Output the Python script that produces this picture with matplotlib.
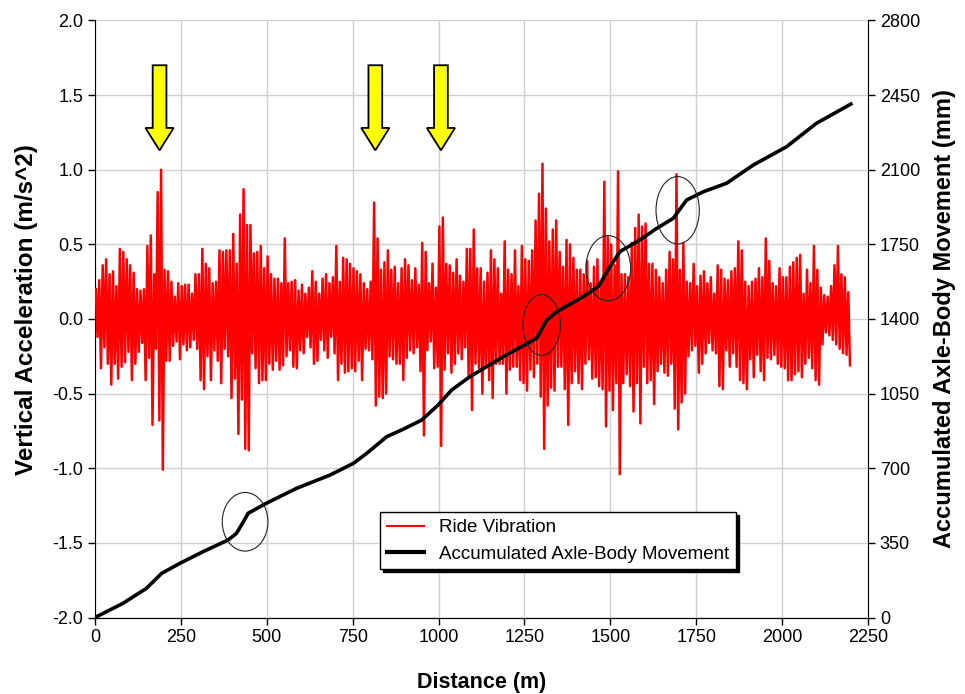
import numpy as np
import matplotlib
matplotlib.use("Agg")
import matplotlib.pyplot as plt
from matplotlib.lines import Line2D
from matplotlib.patches import Ellipse, FancyArrow

plt.rcParams['font.family'] = ['Liberation Sans', 'DejaVu Sans']

# ride vibration, peak up / peak down in each 10 m bin (0 - 2200 m)
bin_size = 10
vib_high = [
    0.20, 0.26, 0.36, 0.40, 0.30, 0.32, 0.22, 0.47, 0.45, 0.40,
    0.36, 0.31, 0.20, 0.19, 0.20, 0.49, 0.56, 0.30, 0.85, 1.00,
    0.33, 0.32, 0.25, 0.15, 0.24, 0.22, 0.23, 0.23, 0.17, 0.30,
    0.30, 0.47, 0.37, 0.34, 0.24, 0.25, 0.46, 0.45, 0.46, 0.46,
    0.57, 0.37, 0.70, 0.87, 0.63, 0.63, 0.44, 0.45, 0.49, 0.34,
    0.42, 0.30, 0.27, 0.27, 0.24, 0.54, 0.24, 0.25, 0.26, 0.19,
    0.23, 0.17, 0.21, 0.32, 0.25, 0.17, 0.27, 0.30, 0.24, 0.28,
    0.49, 0.25, 0.41, 0.40, 0.37, 0.34, 0.32, 0.30, 0.24, 0.20,
    0.25, 0.78, 0.54, 0.33, 0.38, 0.46, 0.33, 0.35, 0.24, 0.34,
    0.40, 0.36, 0.26, 0.34, 0.23, 0.51, 0.45, 0.24, 0.37, 0.21,
    0.62, 0.68, 0.37, 0.36, 0.31, 0.40, 0.29, 0.25, 0.47, 0.47,
    0.60, 0.34, 0.34, 0.25, 0.31, 0.46, 0.40, 0.34, 0.17, 0.52,
    0.33, 0.30, 0.46, 0.22, 0.49, 0.40, 0.39, 0.46, 0.66, 0.84,
    1.04, 0.74, 0.52, 0.60, 0.66, 0.45, 0.35, 0.53, 0.50, 0.41,
    0.33, 0.33, 0.30, 0.39, 0.24, 0.35, 0.40, 0.25, 0.92, 0.55,
    0.50, 0.36, 0.99, 0.30, 0.30, 0.28, 0.51, 0.61, 0.70, 0.62,
    0.64, 0.37, 0.37, 0.33, 0.28, 0.24, 0.33, 0.45, 0.40, 0.97,
    0.33, 0.51, 0.25, 0.24, 0.37, 0.22, 0.29, 0.32, 0.24, 0.28,
    0.17, 0.36, 0.33, 0.27, 0.26, 0.32, 0.34, 0.52, 0.46, 0.25,
    0.22, 0.25, 0.27, 0.34, 0.28, 0.54, 0.39, 0.24, 0.22, 0.34,
    0.28, 0.28, 0.35, 0.38, 0.41, 0.43, 0.17, 0.33, 0.24, 0.49,
    0.33, 0.21, 0.16, 0.15, 0.22, 0.36, 0.49, 0.30, 0.28, 0.18,
]
vib_low = [
    -0.12, -0.33, -0.19, -0.30, -0.44, -0.30, -0.40, -0.32, -0.29, -0.22,
    -0.41, -0.30, -0.22, -0.16, -0.41, -0.26, -0.71, -0.20, -0.68, -1.01,
    -0.28, -0.28, -0.18, -0.15, -0.27, -0.17, -0.21, -0.19, -0.14, -0.20,
    -0.41, -0.47, -0.25, -0.41, -0.21, -0.28, -0.43, -0.20, -0.25, -0.53,
    -0.40, -0.77, -0.54, -0.87, -0.88, -0.23, -0.33, -0.43, -0.41, -0.41,
    -0.30, -0.34, -0.28, -0.34, -0.31, -0.25, -0.21, -0.32, -0.33, -0.21,
    -0.23, -0.12, -0.19, -0.30, -0.28, -0.14, -0.21, -0.26, -0.12, -0.23,
    -0.41, -0.30, -0.36, -0.35, -0.33, -0.35, -0.28, -0.41, -0.20, -0.21,
    -0.27, -0.58, -0.52, -0.53, -0.50, -0.25, -0.27, -0.30, -0.30, -0.41,
    -0.26, -0.21, -0.23, -0.19, -0.35, -0.78, -0.21, -0.15, -0.33, -0.32,
    -0.85, -0.34, -0.23, -0.36, -0.30, -0.23, -0.27, -0.19, -0.39, -0.61,
    -0.30, -0.33, -0.50, -0.32, -0.41, -0.53, -0.30, -0.30, -0.30, -0.50,
    -0.34, -0.32, -0.32, -0.41, -0.43, -0.48, -0.34, -0.39, -0.30, -0.52,
    -0.87, -0.58, -0.46, -0.48, -0.32, -0.32, -0.47, -0.71, -0.43, -0.35,
    -0.43, -0.47, -0.30, -0.27, -0.40, -0.39, -0.45, -0.47, -0.72, -0.48,
    -0.61, -0.43, -1.04, -0.43, -0.37, -0.45, -0.62, -0.43, -0.70, -0.32,
    -0.43, -0.41, -0.57, -0.35, -0.30, -0.36, -0.38, -0.30, -0.60, -0.74,
    -0.56, -0.50, -0.25, -0.21, -0.18, -0.36, -0.30, -0.23, -0.16, -0.21,
    -0.23, -0.45, -0.47, -0.21, -0.32, -0.23, -0.32, -0.41, -0.43, -0.47,
    -0.27, -0.39, -0.24, -0.35, -0.41, -0.26, -0.27, -0.24, -0.30, -0.32,
    -0.33, -0.41, -0.41, -0.37, -0.35, -0.39, -0.30, -0.26, -0.33, -0.41,
    -0.44, -0.17, -0.09, -0.11, -0.14, -0.17, -0.20, -0.23, -0.24, -0.31,
]

# accumulated axle-body movement (mm) against distance (m)
move_dist = [0, 82, 150, 194, 247, 315, 388, 412, 432, 446, 499, 587, 684,
             752, 791, 849, 897, 951, 999, 1038, 1091, 1188, 1285, 1315, 1344,
             1421, 1465, 1499, 1528, 1586, 1635, 1683, 1722, 1771, 1839, 1916,
             2013, 2100, 2200]
move_mm = [0, 67, 137, 207, 254, 309, 364, 395, 449, 489, 536, 606, 668,
           723, 770, 848, 883, 926, 997, 1067, 1129, 1223, 1309, 1395, 1434,
           1505, 1552, 1645, 1716, 1771, 1825, 1872, 1958, 1997, 2037, 2122,
           2208, 2318, 2408]

# events marked on the chart
arrow_dist = [188, 816, 1007]
jump_dist = [437, 1300, 1494, 1696]
jump_mm = [449, 1372, 1638, 1910]

x_ticks = np.arange(0, 2251, 250)
acc_ticks = np.arange(-2.0, 2.01, 0.5)
mm_ticks = np.arange(0, 2801, 350)

# zigzag between the bin peaks so the trace looks like the raw signal
bins = np.arange(len(vib_high)) * bin_size
sig_x = np.column_stack([bins + 0.25 * bin_size, bins + 0.75 * bin_size]).ravel()
sig_y = np.column_stack([vib_high, vib_low]).ravel()

fig = plt.figure(figsize=(9.65, 6.94), dpi=100)
ax = fig.add_axes([0.0984, 0.1102, 0.8011, 0.8603])
ax2 = ax.twinx()

ax.plot(sig_x, sig_y, color='#ff0000', lw=1.8, zorder=3)
ax2.plot(move_dist, move_mm, color='black', lw=2.6, zorder=4)

for d, mm, w, h in zip(jump_dist, jump_mm, [133, 109, 130, 126], [275, 285, 306, 316]):
    ax2.add_patch(Ellipse((d, mm), w, h, fill=False, edgecolor='#222222', lw=0.8, zorder=5))

for d in arrow_dist:
    ax.add_patch(FancyArrow(d, 1.70, 0, -0.57, width=40, head_width=82,
                            head_length=0.15, length_includes_head=True,
                            facecolor='#ffff00', edgecolor='black', lw=1.3, zorder=6))

ax.set_xlim(0, 2250)
ax.set_ylim(-2.0, 2.0)
ax2.set_ylim(0, 2800)
ax.set_xticks(x_ticks)
ax.set_yticks(acc_ticks)
ax2.set_yticks(mm_ticks)
ax.set_yticklabels([f'{v:.1f}' for v in acc_ticks])
ax.grid(True, color='#d0d0d0', lw=1.0, zorder=0)
ax.set_axisbelow(True)

for a in (ax, ax2):
    a.spines['top'].set_visible(False)
    a.tick_params(direction='out', length=5, width=1, labelsize=13, colors='black')
ax2.spines['left'].set_visible(False)
ax.spines['right'].set_visible(False)
ax.tick_params(axis='x', pad=3)

ax.set_xlabel('Distance (m)', fontsize=15.5, fontweight='bold', labelpad=19)
ax.set_ylabel('Vertical Acceleration (m/s^2)', fontsize=17.5, fontweight='bold', labelpad=10)
ax.yaxis.label.set_y(0.515)
ax2.set_ylabel('Accumulated Axle-Body Movement (mm)', fontsize=17, fontweight='bold', labelpad=9)

handles = [Line2D([], [], color='#ff0000', lw=1.5),
           Line2D([], [], color='black', lw=3)]
leg = ax2.legend(handles, ['Ride Vibration', 'Accumulated Axle-Body Movement'],
                 loc='upper left', bbox_to_anchor=(0.369, 0.176), borderaxespad=0,
                 fontsize=13.5, fancybox=False, framealpha=1, edgecolor='black',
                 handlelength=2.0, handletextpad=0.8, borderpad=0.35, labelspacing=0.5,
                 shadow={'color': 'black', 'alpha': 1})
leg.get_frame().set_linewidth(1.0)
leg.set_zorder(10)

fig.savefig('out.png', dpi=100)
